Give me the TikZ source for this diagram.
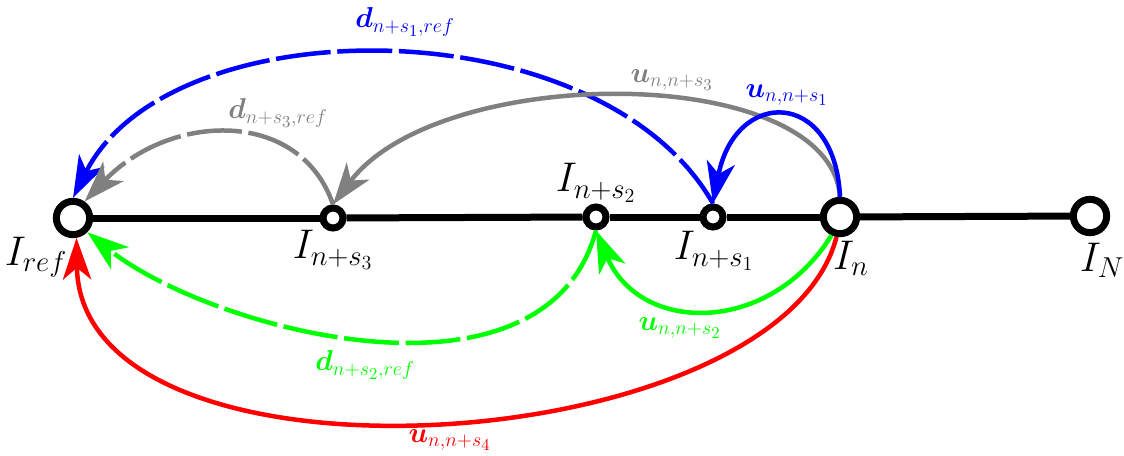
\documentclass[tikz,border=0pt]{standalone}
\usepackage{amsmath}
\usepackage{bm}
\usetikzlibrary{arrows.meta}
\definecolor{PathBlue}{RGB}{0, 0, 255}
\definecolor{PathGrey}{RGB}{128, 128, 128}
\definecolor{PathGreen}{RGB}{0, 255, 0}
\definecolor{PathRed}{RGB}{255, 0, 0}

\begin{document}
\begin{tikzpicture}[
  x=0.6pt, y=-0.6pt,
  frame/.style={circle, draw=black, fill=white, line width=4.2pt, inner sep=0pt},
  keyframe/.style={frame, minimum size=20pt},
  subframe/.style={frame, minimum size=12pt},
  track/.style={line width=4.2pt},
  link/.style={line width=2.7pt, -{Stealth[length=25pt, width=17pt, inset=7pt]}},
  gapped/.style={dash pattern=on 33pt off 4pt},
  framelbl/.style={font=\fontsize{23}{27}\selectfont},
  linklbl/.style={font=\LARGE}
]
  \useasboundingbox (0,0) rectangle (1124,456);

  % frames along the sequence
  \node[keyframe] (ref)  at (73, 218)   {};
  \node[subframe] (s3)   at (333, 218)  {};
  \node[subframe] (s2)   at (596, 217)  {};
  \node[subframe] (s1)   at (713, 217)  {};
  \node[keyframe] (n)    at (840, 217)  {};
  \node[keyframe] (last) at (1090, 216) {};

  \foreach \a/\b in {ref/s3, s3/s2, s2/s1, s1/n, n/last}
    \draw[track] (\a) -- (\b);

  \node[framelbl] (ref-l)  at (36, 257)   {$I_{ref}$};
  \node[framelbl] (s3-l)   at (333, 250)  {$I_{n+s_3}$};
  \node[framelbl] (s2-l)   at (596, 183)  {$I_{n+s_2}$};
  \node[framelbl] (s1-l)   at (714, 251)  {$I_{n+s_1}$};
  \node[framelbl] (n-l)    at (851, 258)  {$I_n$};
  \node[framelbl] (last-l) at (1102, 260) {$I_N$};

  % motions and displacements
  \draw[link, gapped, PathBlue] (s1.north) .. controls (600,5) and (170,5) .. (ref.north);
  \draw[link, PathGrey] (n.north) .. controls (830,62) and (440,62) .. (s3.north);
  \draw[link, gapped, PathGrey] (s3.north) .. controls (300,108) and (170,112) .. (ref.55);
  \draw[link, PathBlue] (n.north) .. controls (835,88) and (735,88) .. (s1.north);
  \draw[link, PathGreen] (n.-115) .. controls (770,335) and (640,335) .. (s2.south);
  \draw[link, gapped, PathGreen] (s2.south) .. controls (545,420) and (210,330) .. (ref.-45);
  \draw[link, PathRed] (n.-100) .. controls (780,460) and (80,505) .. (ref.-80);

  \node[linklbl, PathBlue]  (d1) at (405, 22)  {$\bm{d}_{n+s_1,ref}$};
  \node[linklbl, PathGrey]  (u3) at (672, 80)  {$\bm{u}_{n,n+s_3}$};
  \node[linklbl, PathBlue]  (u1) at (787, 95)  {$\bm{u}_{n,n+s_1}$};
  \node[linklbl, PathGrey]  (d3) at (278, 113) {$\bm{d}_{n+s_3,ref}$};
  \node[linklbl, PathGreen] (u2) at (680, 328) {$\bm{u}_{n,n+s_2}$};
  \node[linklbl, PathGreen] (d2) at (365, 365) {$\bm{d}_{n+s_2,ref}$};
  \node[linklbl, PathRed]   (u4) at (450, 440) {$\bm{u}_{n,n+s_4}$};
\end{tikzpicture}
\end{document}
